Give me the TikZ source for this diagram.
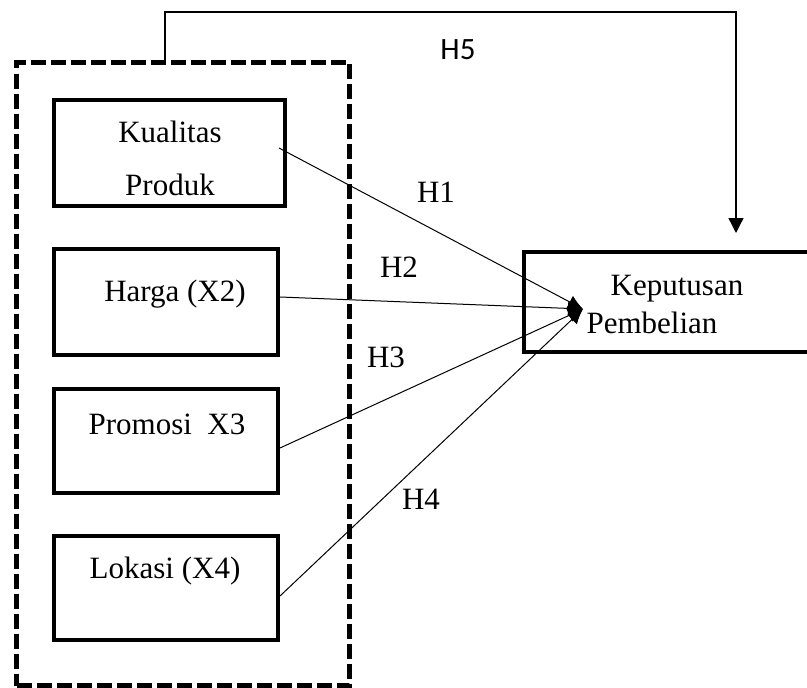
\documentclass[tikz,border=0pt]{standalone}
\usepackage{fontspec}
\setmainfont{Liberation Serif}
\newfontfamily\hfivefont{Carlito}
\usetikzlibrary{arrows.meta}
\begin{document}
\begin{tikzpicture}[x=1pt,y=-1pt,
  varbox/.style={draw,line width=4pt,inner sep=0pt,minimum height=106pt},
  grpbox/.style={draw,line width=5pt,dash pattern=on 15pt off 5pt,inner sep=0pt},
  txt/.style={inner sep=0pt,anchor=base,font=\fontsize{31}{37}\selectfont},
  htxt/.style={inner sep=0pt,anchor=base,font=\fontsize{31}{37}\selectfont},
  conn/.style={line width=1pt,-{Latex[length=15pt,width=14pt]}},
  hfline/.style={line width=1.3pt,-{Triangle[length=15pt,width=15pt]}}]
\useasboundingbox (0,0) rectangle (807,688);
% group
\node[grpbox,minimum width=333pt,minimum height=623pt] (grp) at (183,374) {};
% variable boxes
\node[varbox,minimum width=231pt] (b1) at (169.5,153) {};
\node[varbox,minimum width=224pt] (b2) at (166,302) {};
\node[varbox,minimum width=224pt,minimum height=104pt] (b3) at (166,441) {};
\node[varbox,minimum width=224pt,minimum height=104pt] (b4) at (166,588) {};
\node[varbox,minimum width=290pt,minimum height=100pt] (kp) at (669,302) {};
% texts
\node[txt] (t1a) at (170,142) {Kualitas};
\node[txt] (t1b) at (170,195) {Produk};
\node[txt] (t2) at (175,301) {Harga (X2)};
\node[txt] (t3) at (167,434) {Promosi\ \ X3};
\node[txt] (t4) at (165,578) {Lokasi (X4)};
\node[txt] (tk1) at (677,295) {Keputusan};
\node[txt] (tk2) at (652,333) {Pembelian};
% hypothesis labels
\node[htxt] (h1) at (436,202) {H1};
\node[htxt] (h2) at (399,277) {H2};
\node[htxt] (h3) at (386,367) {H3};
\node[htxt] (h4) at (421,509) {H4};
\node[inner sep=0pt,anchor=base,font=\hfivefont\fontsize{31}{37}\selectfont] (h5) at (458,59) {H5};
% connectors
\coordinate (tip) at (583,309);
\draw[conn] ([shift={(-8,-5)}]b1.east) -- (tip);
\draw[conn] ([shift={(0,-5)}]b2.east) -- (tip);
\draw[conn] ([shift={(0,7)}]b3.east) -- (tip);
\draw[conn] ([shift={(0,8)}]b4.east) -- (tip);
\coordinate (h5start) at (grp.north -| 165,0);
\coordinate (h5end) at (736,233);
\draw[hfline] (h5start) -- (165,12) -- (736,12) -- (h5end);
\end{tikzpicture}
\end{document}
